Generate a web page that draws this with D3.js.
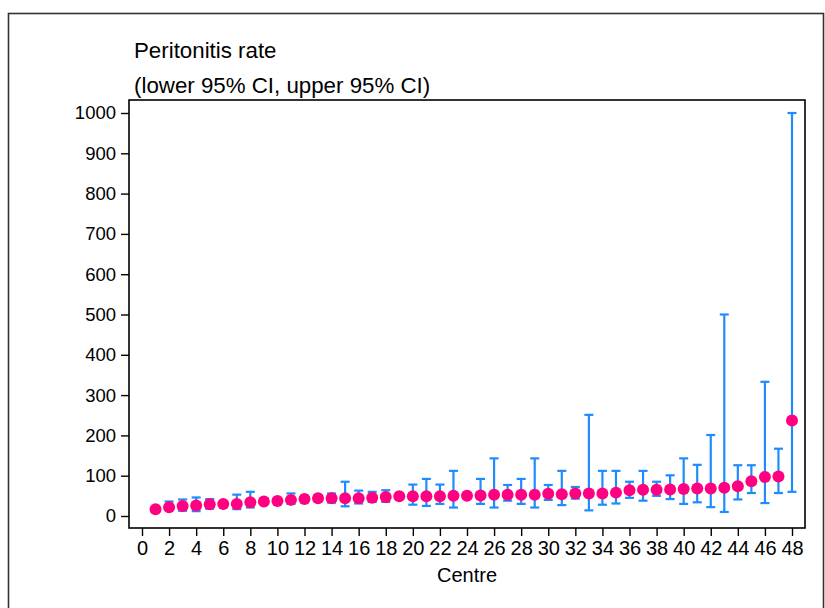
<!DOCTYPE html>
<html>
<head>
<meta charset="utf-8">
<script src="https://cdn.jsdelivr.net/npm/d3@7"></script>
<style>
  html, body { margin: 0; padding: 0; background: #fff; }
  svg { display: block; }
  text { font-family: "Liberation Sans", Arial, sans-serif; fill: #000; }
</style>
</head>
<body>
<svg id="chart" width="825" height="608"></svg>
<script>
// Peritonitis rate per centre, ordered by rate, with 95% confidence limits
const centres = d3.range(1, 49);
const rate = [17, 21.5, 25, 26, 29, 30, 30, 34, 36, 37, 40, 42, 44, 44, 44, 44,
  45, 47, 49, 49, 49, 49, 50, 50, 51, 53, 53, 53, 53, 55, 54, 56,
  56, 56, 58, 64, 65, 65, 66, 67, 68, 68, 70, 74, 86, 97, 98, 237];
const lowerCI = [14, 18, 13, 12, 18, 24, 17, 21, 30, 31, 30, 35, 37, 33, 24, 31,
  35, 35, 43, 28, 25, 30, 21, 44, 30, 21, 38, 30, 21, 40, 27, 43,
  14, 28, 31, 45, 38, 50, 42, 30, 34, 22, 10, 41, 57, 32, 57, 60];
const upperCI = [22, 36, 41, 46, 42, 36, 53, 60, 42, 44, 56, 50, 52, 56, 85, 63,
  60, 64, 56, 78, 92, 78, 112, 57, 92, 143, 77, 92, 143, 77, 112, 72,
  251, 112, 112, 85, 112, 85, 101, 143, 127, 201, 500, 126, 126, 333, 167, 1000];
const xTicks = d3.range(0, 49, 2);
const yTicks = d3.range(0, 1001, 100);

const svg = d3.select("#chart");

// outer frame around the graph region
svg.append("rect")
  .attr("x", 8.5).attr("y", 13.5)
  .attr("width", 815).attr("height", 620)
  .attr("fill", "none").attr("stroke", "#333").attr("stroke-width", 1.6);

const plot = { left: 129, right: 805, top: 100, bottom: 528 };

const x = d3.scaleLinear().domain([0, 48]).range([142, 792]);
const y = d3.scaleLinear().domain([0, 1000]).range([516, 113]);

// title above the plot
const title = svg.append("text")
  .attr("x", 134).attr("y", 58)
  .style("font-size", "22.3px");
title.append("tspan").attr("x", 134).text("Peritonitis rate");
title.append("tspan").attr("x", 134).attr("dy", 35).text("(lower 95% CI, upper 95% CI)");

// y axis
const yAxis = svg.append("g")
  .attr("transform", `translate(${plot.left},0)`)
  .call(d3.axisLeft(y).tickValues(yTicks).tickSize(8).tickPadding(5).tickFormat(d3.format("d")));
yAxis.select(".domain").remove();
yAxis.selectAll("line").attr("stroke", "#000").attr("stroke-width", 1.4);
yAxis.selectAll("text").style("font-size", "18.5px").attr("font-family", null);

// x axis
const xAxis = svg.append("g")
  .attr("transform", `translate(0,${plot.bottom})`)
  .call(d3.axisBottom(x).tickValues(xTicks).tickSize(8).tickPadding(5).tickFormat(d3.format("d")));
xAxis.select(".domain").remove();
xAxis.selectAll("line").attr("stroke", "#000").attr("stroke-width", 1.4);
xAxis.selectAll("text").style("font-size", "20px").attr("font-family", null);

svg.append("text")
  .attr("x", (x(0) + x(48)) / 2).attr("y", 582)
  .attr("text-anchor", "middle")
  .style("font-size", "20px")
  .text("Centre");

// plot frame
svg.append("rect")
  .attr("x", plot.left).attr("y", plot.top)
  .attr("width", plot.right - plot.left).attr("height", plot.bottom - plot.top)
  .attr("fill", "none").attr("stroke", "#000").attr("stroke-width", 1.6);

const data = centres.map((c, i) => ({ c, r: rate[i], lo: lowerCI[i], hi: upperCI[i] }));
const blue = "#1e8cff";
const capW = 4.5;

// confidence interval bars
const bars = svg.append("g").attr("stroke", blue).attr("stroke-width", 2.2).attr("fill", "none");
bars.selectAll("line.v").data(data).join("line").attr("class", "v")
  .attr("x1", d => x(d.c)).attr("x2", d => x(d.c))
  .attr("y1", d => y(d.lo)).attr("y2", d => y(d.hi));
bars.selectAll("line.top").data(data).join("line").attr("class", "top")
  .attr("x1", d => x(d.c) - capW).attr("x2", d => x(d.c) + capW)
  .attr("y1", d => y(d.hi)).attr("y2", d => y(d.hi));
bars.selectAll("line.bot").data(data).join("line").attr("class", "bot")
  .attr("x1", d => x(d.c) - capW).attr("x2", d => x(d.c) + capW)
  .attr("y1", d => y(d.lo)).attr("y2", d => y(d.lo));

// rate markers
svg.append("g").selectAll("circle").data(data).join("circle")
  .attr("cx", d => x(d.c)).attr("cy", d => y(d.r))
  .attr("r", 6)
  .attr("fill", "#ff0080");
</script>
</body>
</html>
